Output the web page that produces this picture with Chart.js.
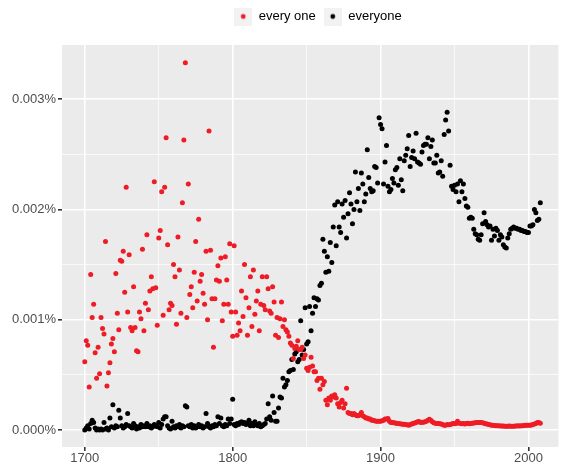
<!DOCTYPE html>
<html>
<head>
<meta charset="utf-8">
<script src="https://cdn.jsdelivr.net/npm/chart.js@4.4.1/dist/chart.umd.min.js"></script>
<style>
  html, body { margin: 0; padding: 0; background: #fff; }
  canvas { display: block; }
</style>
</head>
<body>
<canvas id="ngramChart" width="561" height="463"></canvas>
<script>
// values in units of 0.001 %
const years = Array.from({ length: 309 }, (_, i) => 1700 + i);

const everyOne = [
  0.62, 0.81, 0.77, 0.39, 1.41, 1.02, 1.14, 0.70, 0.47, 0.75,
  0.51, 1.02, 0.92, 0.87, 1.71, 0.40, 0.52, 0.61, 0.78, 0.83,
  0.71, 1.42, 1.06, 0.91, 1.54, 1.53, 1.62, 1.25, 2.20, 1.07,
  1.59, 0.93, 0.90, 1.30, 0.93, 0.72, 0.71, 1.07, 1.01, 1.64,
  0.90, 1.15, 1.77, 1.09, 1.26, 1.39, 1.28, 2.25, 1.29, 0.95,
  1.74, 1.81, 2.16, 1.04, 2.20, 2.65, 1.68, 1.09, 1.15, 1.13,
  1.50, 1.39, 0.96, 1.75, 1.45, 1.06, 2.06, 2.63, 3.33, 1.02,
  2.23, 1.23, 1.30, 1.11, 1.43, 1.71, 1.17, 1.91, 1.35, 1.41,
  1.24, 1.14, 1.62, 1.00, 2.71, 1.63, 1.19, 0.75, 1.19, 1.36,
  1.49, 1.35, 1.56, 0.99, 1.14, 1.57, 1.36, 1.14, 1.69, 1.07,
  0.85, 1.67, 1.07, 0.86, 0.97, 0.90, 1.26, 1.03, 1.50, 1.20,
  0.86, 1.11, 1.39, 0.94, 1.45, 1.05, 1.17, 1.26, 0.90, 1.14,
  1.39, 1.13, 1.09, 1.39, 1.28, 1.08, 1.06, 1.30, 1.16, 0.86,
  1.02, 0.84, 1.01, 1.16, 0.94, 1.00, 0.91, 0.89, 0.85, 0.79,
  0.77, 0.65, 0.74, 0.76, 0.81, 0.73, 0.73, 0.75, 0.65, 0.68,
  0.56, 0.54, 0.57, 0.66, 0.58, 0.53, 0.53, 0.45, 0.47, 0.37,
  0.47, 0.41, 0.44, 0.27, 0.23, 0.29, 0.27, 0.31, 0.30, 0.32,
  0.29, 0.24, 0.21, 0.25, 0.27, 0.20, 0.24, 0.38, 0.16, 0.15,
  0.15, 0.14, 0.15, 0.14, 0.13, 0.13, 0.14, 0.16, 0.13, 0.12,
  0.11, 0.11, 0.10, 0.10, 0.09, 0.09, 0.085, 0.08, 0.08, 0.08,
  0.08, 0.085, 0.09, 0.10, 0.10, 0.105, 0.08, 0.07, 0.07, 0.066,
  0.065, 0.06, 0.06, 0.058, 0.055, 0.054, 0.054, 0.05, 0.048, 0.045,
  0.05, 0.055, 0.06, 0.065, 0.07, 0.075, 0.078, 0.07, 0.072, 0.072,
  0.075, 0.08, 0.09, 0.099, 0.09, 0.075, 0.066, 0.062, 0.06, 0.06,
  0.058, 0.055, 0.05, 0.045, 0.045, 0.05, 0.048, 0.05, 0.055, 0.06,
  0.058, 0.06, 0.08, 0.065, 0.06, 0.058, 0.06, 0.055, 0.06, 0.062,
  0.058, 0.06, 0.063, 0.065, 0.066, 0.068, 0.07, 0.07, 0.068, 0.066,
  0.062, 0.058, 0.055, 0.05, 0.048, 0.045, 0.044, 0.042, 0.04, 0.04,
  0.04, 0.038, 0.038, 0.037, 0.036, 0.036, 0.036, 0.037, 0.036, 0.036,
  0.036, 0.037, 0.038, 0.04, 0.038, 0.04, 0.04, 0.041, 0.043, 0.044,
  0.044, 0.045, 0.046, 0.05, 0.055, 0.06, 0.068, 0.07, 0.062
];

const everyone = [
  0.00, 0.02, 0.04, 0.01, 0.06, 0.09, 0.07, 0.02, 0.00, 0.01,
  0.00, 0.01, 0.00, 0.07, 0.01, 0.02, 0.00, 0.11, 0.03, 0.23,
  0.02, 0.04, 0.03, 0.18, 0.11, 0.04, 0.02, 0.03, 0.05, 0.15,
  0.04, 0.03, 0.02, 0.06, 0.04, 0.01, 0.03, 0.02, 0.05, 0.03,
  0.04, 0.03, 0.06, 0.03, 0.04, 0.02, 0.03, 0.05, 0.04, 0.03,
  0.07, 0.02, 0.05, 0.10, 0.12, 0.12, 0.04, 0.02, 0.01, 0.08,
  0.03, 0.02, 0.04, 0.03, 0.05, 0.02, 0.04, 0.03, 0.22, 0.21,
  0.04, 0.03, 0.05, 0.02, 0.04, 0.02, 0.03, 0.05, 0.03, 0.04,
  0.02, 0.03, 0.15, 0.06, 0.03, 0.02, 0.04, 0.03, 0.05, 0.04,
  0.12, 0.06, 0.11, 0.04, 0.03, 0.05, 0.04, 0.10, 0.06, 0.10,
  0.28, 0.05, 0.04, 0.06, 0.05, 0.07, 0.075, 0.06, 0.07, 0.05,
  0.06, 0.09, 0.04, 0.06, 0.04, 0.075, 0.05, 0.04, 0.06, 0.03,
  0.04, 0.05, 0.06, 0.10, 0.24, 0.12, 0.09, 0.31, 0.16, 0.08,
  0.08, 0.20, 0.30, 0.29, 0.47, 0.39, 0.41, 0.45, 0.53, 0.54,
  0.64, 0.55, 0.69, 0.71, 0.62, 0.64, 0.99, 0.68, 0.73, 1.11,
  0.78, 0.80, 1.12, 0.90, 1.06, 1.20, 1.12, 1.19, 1.18, 1.31,
  1.33, 1.73, 1.62, 1.43, 1.57, 1.44, 1.70, 1.52, 1.84, 2.04,
  1.67, 2.07, 1.84, 1.79, 2.05, 1.93, 2.08, 1.74, 1.96, 2.15,
  2.05, 1.87, 2.00, 2.34, 2.07, 2.19, 1.99, 2.33, 2.23, 2.07,
  2.14, 2.54, 2.29, 2.19, 2.16, 2.17, 2.39, 2.38, 2.24, 2.83,
  2.77, 2.73, 2.23, 2.43, 2.58, 2.21, 2.16, 2.18, 2.28, 2.24,
  2.36, 2.38, 2.22, 2.46, 2.27, 2.17, 2.44, 2.49, 2.55, 2.67,
  2.39, 2.47, 2.53, 2.46, 2.69, 2.43, 2.42, 2.41, 2.52, 2.58,
  2.59, 2.59, 2.65, 2.46, 2.57, 2.63, 2.42, 2.42, 2.49, 2.33,
  2.34, 2.44, 2.30, 2.68, 2.81, 2.88, 2.71, 2.40, 2.21, 2.18,
  2.22, 2.16, 2.23, 2.07, 2.26, 2.16, 2.23, 2.10, 2.03, 2.02,
  1.92, 1.93, 1.92, 1.82, 1.78, 1.77, 1.73, 1.72, 1.77, 1.87,
  1.97, 1.89, 1.86, 1.84, 1.85, 1.72, 1.82, 1.76, 1.83, 1.81,
  1.72, 1.77, 1.75, 1.68, 1.66, 1.65, 1.74, 1.78, 1.82, 1.83,
  1.84, 1.83, 1.83, 1.82, 1.82, 1.81, 1.81, 1.80, 1.80, 1.79,
  1.79, 1.85, 1.85, 1.86, 2.00, 1.97, 1.90, 1.91, 2.06
];

const xMajor = [1700, 1800, 1900, 2000];
const xMinor = [1750, 1850, 1950];
const yMajor = [0, 1, 2, 3];
const yMinor = [0.5, 1.5, 2.5];
const yLabels = ['0.000%', '0.001%', '0.002%', '0.003%'];

const RED = '#EE1C25';
const BLACK = '#000000';
const FONT = "'Liberation Sans', Arial, Helvetica, sans-serif";
const legendShift = 38;

function makeKey(color) {
    const c = document.createElement('canvas');
    c.width = 18;
    c.height = 18;
    const k = c.getContext('2d');
    k.fillStyle = '#F2F2F2';
    k.fillRect(0, 0, 18, 18);
    k.fillStyle = color;
    k.beginPath();
    k.arc(9, 9, 2.4, 0, Math.PI * 2);
    k.fill();
    return c;
}
const legendKeys = [makeKey(RED), makeKey(BLACK)];

// grey panel + legend spacing like ggplot
const ggPanel = {
    id: 'ggPanel',
    beforeLayout(chart) {
        const legend = chart.legend;
        if (legend && !legend._ggPatched) {
            const fit = legend.fit;
            legend.fit = function () { fit.call(this); this.height += 12; };
            const draw = legend.draw;
            legend.draw = function () {
                this.ctx.save();
                this.ctx.translate(legendShift, 0);
                draw.call(this);
                this.ctx.restore();
            };
            legend._ggPatched = true;
        }
    },
    beforeDraw(chart) {
        const { ctx, chartArea: a } = chart;
        ctx.save();
        ctx.fillStyle = '#ffffff';
        ctx.fillRect(0, 0, chart.width, chart.height);
        ctx.fillStyle = '#EBEBEB';
        ctx.fillRect(a.left, a.top, a.right - a.left, a.bottom - a.top);
        ctx.restore();
    }
};

const isMajor = (list, c) => c.tick && list.includes(c.tick.value);

const ctx = document.getElementById('ngramChart').getContext('2d');
new Chart(ctx, {
    type: 'scatter',
    data: {
        datasets: [{
            label: 'every one',
            data: years.map((yr, i) => ({ x: yr, y: everyOne[i] })),
            backgroundColor: RED,
            borderColor: RED,
            pointRadius: 2.5,
            pointHoverRadius: 2.5,
            pointBorderWidth: 0
        }, {
            label: 'everyone',
            data: years.map((yr, i) => ({ x: yr, y: everyone[i] })),
            backgroundColor: BLACK,
            borderColor: BLACK,
            pointRadius: 2.5,
            pointHoverRadius: 2.5,
            pointBorderWidth: 0
        }]
    },
    options: {
        responsive: false,
        animation: false,
        devicePixelRatio: 1,
        layout: { padding: { top: 2, right: 1, left: 0, bottom: 0 } },
        plugins: {
            legend: {
                position: 'top',
                align: 'center',
                labels: {
                    usePointStyle: true,
                    pointStyleWidth: 18,
                    padding: 8,
                    color: '#000000',
                    font: { family: FONT, size: 13 },
                    generateLabels(chart) {
                        const items = Chart.defaults.plugins.legend.labels.generateLabels(chart);
                        items.forEach((it, i) => { it.pointStyle = legendKeys[i]; });
                        return items;
                    }
                }
            },
            tooltip: { enabled: false }
        },
        scales: {
            x: {
                type: 'linear',
                min: 1684.6,
                max: 2020.3,
                afterBuildTicks: s => { s.ticks = [...xMajor, ...xMinor].sort((a, b) => a - b).map(v => ({ value: v })); },
                afterFit: s => { s.height = 16; },
                border: { display: false },
                grid: {
                    color: '#ffffff',
                    lineWidth: c => isMajor(xMajor, c) ? 1.6 : 0.7,
                    tickColor: c => isMajor(xMajor, c) ? '#333333' : 'rgba(0,0,0,0)',
                    tickLength: 4
                },
                ticks: {
                    autoSkip: false,
                    maxRotation: 0,
                    padding: 0,
                    color: '#4D4D4D',
                    font: { family: FONT, size: 13 },
                    callback: v => xMajor.includes(v) ? String(v) : ''
                }
            },
            y: {
                min: -0.153,
                max: 3.49,
                afterBuildTicks: s => { s.ticks = [...yMajor, ...yMinor].sort((a, b) => a - b).map(v => ({ value: v })); },
                afterFit: s => { s.width = 62; },
                border: { display: false },
                grid: {
                    color: '#ffffff',
                    lineWidth: c => isMajor(yMajor, c) ? 1.6 : 0.7,
                    tickColor: c => isMajor(yMajor, c) ? '#333333' : 'rgba(0,0,0,0)',
                    tickLength: 4
                },
                ticks: {
                    autoSkip: false,
                    padding: 2,
                    color: '#4D4D4D',
                    font: { family: FONT, size: 13 },
                    callback: v => {
                        const i = yMajor.indexOf(v);
                        return i >= 0 ? yLabels[i] : '';
                    }
                }
            }
        }
    },
    plugins: [ggPanel]
});
</script>
</body>
</html>
